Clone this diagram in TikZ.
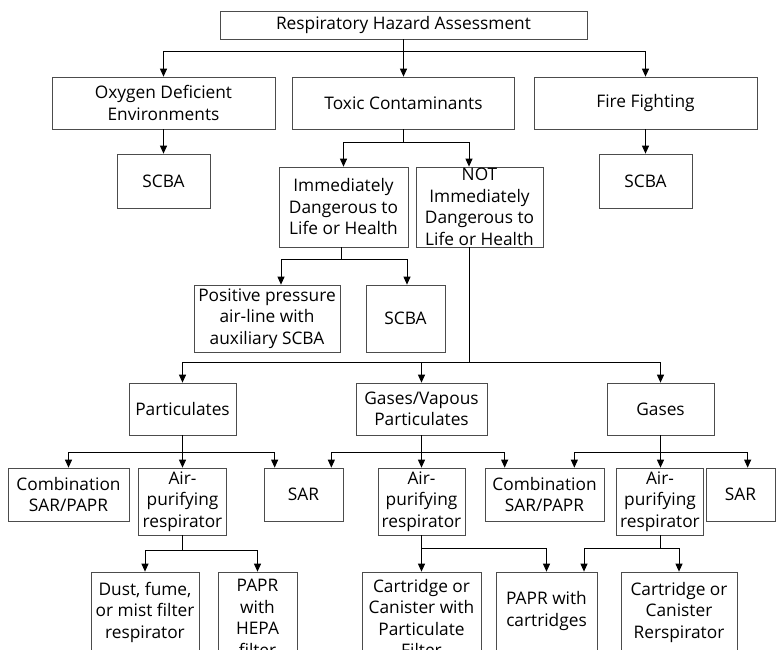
\documentclass[tikz,border=0pt]{standalone}
\usepackage{fontspec}
\setmainfont{Open Sans}
\usetikzlibrary{arrows.meta}
\begin{document}
\begin{tikzpicture}[x=1pt,y=-1pt,
  box/.style={draw=black!70, line width=0.7pt, inner sep=0pt, align=center, fill=white,
    font=\fontsize{17.3}{21.5}\selectfont},
  line/.style={draw=black, line width=1pt},
  arr/.style={line, -{Triangle[width=7pt,length=8pt]}}]
\useasboundingbox (0,0) rectangle (776,650);
\clip (0,0) rectangle (776,650);
\fill[white] (0,0) rectangle (776,650);
% row 0
\node[box, minimum width=367pt, minimum height=28pt] (top) at (403.5,25) {Respiratory Hazard Assessment};
% row 1
\node[box, minimum width=223pt, minimum height=52pt] (oxy) at (163.5,103) {Oxygen Deficient\\Environments};
\node[box, minimum width=222pt, minimum height=52pt] (tox) at (403.5,103) {Toxic Contaminants};
\node[box, minimum width=223pt, minimum height=52pt] (fire) at (645.5,103) {Fire Fighting};
% row 2
\node[box, minimum width=93pt, minimum height=54pt] (scbaA) at (163.5,181) {SCBA};
\node[box, minimum width=93pt, minimum height=54pt] (scbaB) at (645.5,181) {SCBA};
\node[box, minimum width=129pt, minimum height=80pt] (idlh) at (343.5,207) {Immediately\\Dangerous to\\Life or Health};
\node[box, minimum width=127pt, minimum height=80pt] (nidlh) at (479.5,207) {NOT\\Immediately\\Dangerous to\\Life or Health};
% row 3
\node[box, minimum width=146pt, minimum height=67pt] (ppal) at (267,318.5) {Positive pressure\\air-line with\\auxiliary SCBA};
\node[box, minimum width=79pt, minimum height=67pt] (scbaC) at (405.5,318.5) {SCBA};
% row 4
\node[box, minimum width=107pt, minimum height=52pt] (part) at (182.5,409) {Particulates};
\node[box, minimum width=131pt, minimum height=52pt] (gvp) at (421.5,409) {Gases/Vapous\\Particulates};
\node[box, minimum width=107pt, minimum height=52pt] (gas) at (660.5,409) {Gases};
% row 5
\node[box, minimum width=121pt, minimum height=53pt] (combA) at (68.5,494.5) {Combination\\SAR/PAPR};
\node[box, minimum width=88pt, minimum height=67pt] (airA) at (182.5,501.5) {Air-\\purifying\\respirator};
\node[box, minimum width=79pt, minimum height=53pt] (sarA) at (303.5,494.5) {SAR};
\node[box, minimum width=87pt, minimum height=67pt] (airB) at (421.5,501.5) {Air-\\purifying\\respirator};
\node[box, minimum width=119pt, minimum height=53pt] (combB) at (544.5,494.5) {Combination\\SAR/PAPR};
\node[box, minimum width=87pt, minimum height=67pt] (airC) at (660,501.5) {Air-\\purifying\\respirator};
\node[box, minimum width=69pt, minimum height=53pt] (sarB) at (740.5,494.5) {SAR};
% row 6
\node[box, minimum width=108pt, minimum height=80pt] (dust) at (145,612) {Dust, fume,\\or mist filter\\respirator};
\node[box, minimum width=79pt, minimum height=92pt] (hepa) at (257.5,618) {PAPR\\with\\HEPA\\filter};
\node[box, minimum width=119pt, minimum height=92pt] (ccpf) at (421.5,618) {Cartridge or\\Canister with\\Particulate\\Filter};
\node[box, minimum width=101pt, minimum height=78pt] (paprc) at (546.5,611) {PAPR with\\cartridges};
\node[box, minimum width=116pt, minimum height=80pt] (ccr) at (679,612) {Cartridge or\\Canister\\Rerspirator};
% connectors
\draw[line] (top.south) -- ++(0,12) coordinate (j1);
\draw[arr] (j1) -| (oxy.north);
\draw[arr] (j1) -| (fire.north);
\draw[arr] (j1) -- (tox.north);
\draw[arr] (oxy.south) -- (scbaA.north);
\draw[arr] (fire.south) -- (scbaB.north);
\draw[line] (tox.south) -- ++(0,13) coordinate (j2);
\draw[arr] (j2) -| (idlh.north);
\draw[arr] (j2) -| ([xshift=-10.5pt]nidlh.north);
\draw[line] ([xshift=-2.5pt]idlh.south) -- ++(0,12) coordinate (j3);
\draw[arr] (j3) -| ([xshift=14pt]ppal.north);
\draw[arr] (j3) -| ([xshift=1.5pt]scbaC.north);
\draw[line] ([xshift=-10.5pt]nidlh.south) -- ++(0,115) coordinate (j4);
\draw[arr] (j4) -| (part.north);
\draw[arr] (j4) -| (gvp.north);
\draw[arr] (j4) -| (gas.north);
\draw[line] (part.south) -- ++(0,17) coordinate (j5);
\draw[arr] (j5) -| (combA.north);
\draw[arr] (j5) -- (airA.north);
\draw[arr] (j5) -| ([xshift=11pt]sarA.north west);
\draw[line] (gvp.south) -- ++(0,17) coordinate (j6);
\draw[arr] (j6) -| ([xshift=-12pt]sarA.north east);
\draw[arr] (j6) -- (airB.north);
\draw[arr] (j6) -| ([xshift=20pt]combB.north west);
\draw[line] (gas.south) -- ++(0,17) coordinate (j7);
\draw[arr] (j7) -| ([xshift=-30pt]combB.north east);
\draw[arr] (j7) -- (j7 |- airC.north);
\draw[arr] (j7) -| ([xshift=42pt]sarB.north west);
\draw[line] (airA.south) -- ++(0,15) coordinate (j8);
\draw[arr] (j8) -| (dust.north);
\draw[arr] (j8) -| (hepa.north);
\draw[line] (airB.south) -- ++(0,13) coordinate (j9);
\draw[arr] (j9) -- (ccpf.north);
\draw[arr] (j9) -| (paprc.north);
\draw[line] (airC.south) -- ++(0,13) coordinate (j10);
\draw[arr] (j10) -| ([xshift=37.5pt]paprc.north);
\draw[arr] (j10) -| (ccr.north);
\end{tikzpicture}
\end{document}
